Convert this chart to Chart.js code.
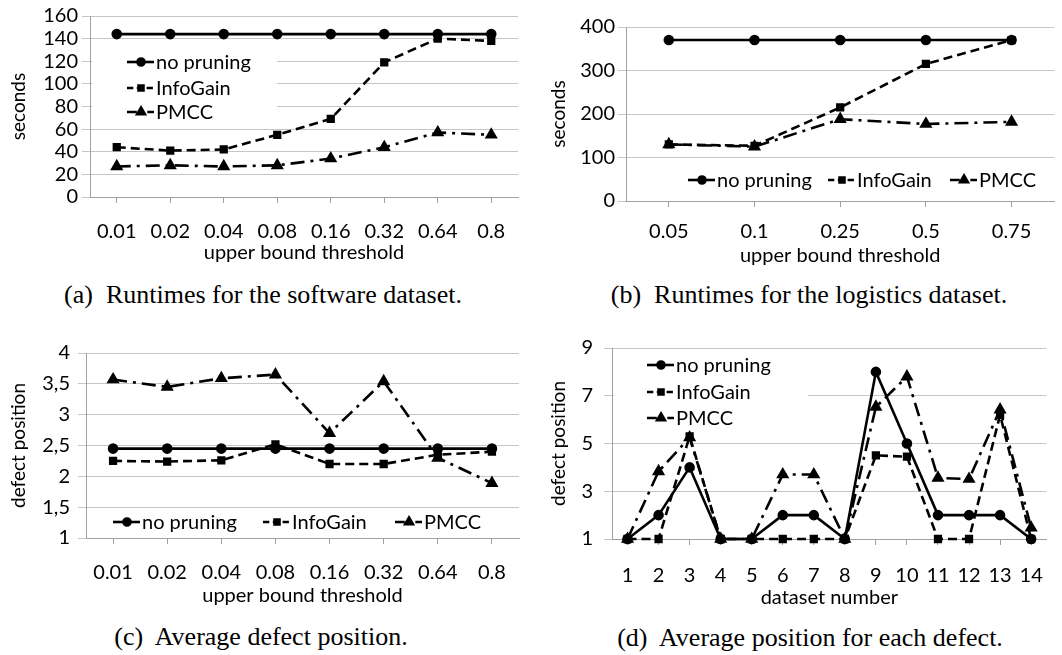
<!DOCTYPE html>
<html>
<head>
<meta charset="utf-8">
<script src="https://cdn.jsdelivr.net/npm/chart.js@4"></script>
<style>
  body { margin: 0; background: #fff; width: 1062px; height: 655px; position: relative; overflow: hidden; }
  canvas { position: absolute; }
  .cap { position: absolute; font-family: "Liberation Serif", serif; font-size: 26px; color: #000;
         white-space: pre; transform: translate(-50%, -50%); }
</style>
</head>
<body>
<canvas id="chartA" width="531" height="270" style="left:0;top:0"></canvas>
<canvas id="chartB" width="531" height="270" style="left:531px;top:0"></canvas>
<canvas id="chartC" width="531" height="290" style="left:0;top:320px"></canvas>
<canvas id="chartD" width="531" height="290" style="left:531px;top:320px"></canvas>
<div class="cap" style="left:263px;top:295px">(a)  Runtimes for the software dataset.</div>
<div class="cap" style="left:809px;top:295px">(b)  Runtimes for the logistics dataset.</div>
<div class="cap" style="left:261px;top:637px">(c)  Average defect position.</div>
<div class="cap" style="left:810px;top:638px">(d)  Average position for each defect.</div>
<script>
// (a) software dataset runtimes
const thresholdsA = ['0.01', '0.02', '0.04', '0.08', '0.16', '0.32', '0.64', '0.8'];
const noPruningA = [144, 144, 144, 144, 144, 144, 144, 144];
const infoGainA = [44, 41, 42, 55, 69, 119, 140, 138];
const pmccA = [27, 28, 27, 28, 34, 44, 57, 55];

// (b) logistics dataset runtimes
const thresholdsB = ['0.05', '0.1', '0.25', '0.5', '0.75'];
const noPruningB = [370, 370, 370, 370, 370];
const infoGainB = [130, 127, 215, 315, 370];
const pmccB = [130, 125, 188, 177, 182];

// (c) average defect position
const thresholdsC = ['0.01', '0.02', '0.04', '0.08', '0.16', '0.32', '0.64', '0.8'];
const noPruningC = [2.45, 2.45, 2.45, 2.45, 2.45, 2.45, 2.45, 2.45];
const infoGainC = [2.25, 2.24, 2.26, 2.52, 2.2, 2.2, 2.35, 2.4];
const pmccC = [3.57, 3.45, 3.59, 3.65, 2.7, 3.54, 2.3, 1.89];

// (d) average position for each defect
const datasetsD = ['1', '2', '3', '4', '5', '6', '7', '8', '9', '10', '11', '12', '13', '14'];
const noPruningD = [1, 2, 4, 1, 1, 2, 2, 1, 8, 5, 2, 2, 2, 1];
const infoGainD = [1, 1, 5.3, 1, 1, 1, 1, 1, 4.5, 4.45, 1, 1, 6.2, 1];
const pmccD = [1, 3.83, 5.25, 1, 1, 3.7, 3.7, 1, 6.53, 7.8, 3.56, 3.51, 6.42, 1.47];

const seriesNames = ['no pruning', 'InfoGain', 'PMCC'];
const FONT = 'Lato';
const FS = 20;
const AXIS = '#a0a0a0';
const GRID = '#c6c6c6';

function makeDatasets(a, b, c) {
  return [
    { label: seriesNames[0], data: a, borderColor: '#000', backgroundColor: '#000', borderWidth: 2.6,
      pointStyle: 'circle', pointRadius: 4, borderDash: [], clip: false },
    { label: seriesNames[1], data: b, borderColor: '#000', backgroundColor: '#000', borderWidth: 2.6,
      pointStyle: 'rect', pointRadius: 4, borderDash: [9, 5], clip: false },
    { label: seriesNames[2], data: c, borderColor: '#000', backgroundColor: '#000', borderWidth: 2.6,
      pointStyle: 'triangle', pointRadius: 5, borderDash: [14, 6, 3, 6], clip: false }
  ];
}

// legend drawn by hand: line sample with marker, then text
const lineLegend = {
  id: 'lineLegend',
  afterDraw(chart, args, opts) {
    const ctx = chart.ctx;
    ctx.save();
    if (opts.box) {
      ctx.fillStyle = '#fff';
      ctx.fillRect(opts.box[0], opts.box[1], opts.box[2], opts.box[3]);
    }
    chart.data.datasets.forEach((ds, i) => {
      const [x, y] = opts.items[i];
      ctx.strokeStyle = '#000';
      ctx.lineWidth = 2.6;
      ctx.setLineDash(ds.borderDash.map(d => d * 0.7));
      ctx.beginPath();
      ctx.moveTo(x, y);
      ctx.lineTo(x + 27, y);
      ctx.stroke();
      ctx.setLineDash([]);
      ctx.fillStyle = '#000';
      Chart.helpers.drawPoint(ctx, { pointStyle: ds.pointStyle, radius: ds.pointRadius - 0.5, rotation: 0, borderWidth: 1 }, x + 14, y);
      ctx.font = FS + 'px ' + FONT;
      ctx.textBaseline = 'middle';
      ctx.textAlign = 'left';
      ctx.fillText(ds.label, x + 29, y + 1);
    });
    ctx.restore();
  }
};

function makeChart(id, p) {
  new Chart(document.getElementById(id), {
    type: 'line',
    data: { labels: p.labels, datasets: makeDatasets(p.a, p.b, p.c) },
    plugins: [lineLegend],
    options: {
      responsive: false,
      animation: false,
      layout: { padding: { left: 0, right: p.right, top: p.top, bottom: 0 } },
      elements: { line: { tension: 0 } },
      plugins: {
        legend: { display: false },
        tooltip: { enabled: false },
        lineLegend: { items: p.legend, box: p.box }
      },
      scales: {
        x: {
          offset: true,
          grid: { drawOnChartArea: false, offset: false, tickLength: 6, color: AXIS },
          border: { color: AXIS },
          ticks: { font: { family: FONT, size: FS }, color: '#000', padding: p.xPad, maxRotation: 0, autoSkip: false },
          title: { display: true, text: p.xTitle, font: { family: FONT, size: FS }, color: '#000',
                   padding: { top: 0, bottom: p.xTitlePad } },
          afterFit: s => { s.height = p.xHeight; }
        },
        y: {
          min: p.min, max: p.max,
          grid: { color: GRID, tickLength: 8 },
          border: { color: AXIS },
          ticks: { stepSize: p.step, autoSkip: false, font: { family: FONT, size: FS }, color: '#000', padding: p.yPad,
                   callback: v => String(v).replace('.', ',') },
          title: { display: true, text: p.yTitle, font: { family: FONT, size: 19 }, color: '#000',
                   padding: { top: p.yTitlePad, bottom: 0 } },
          afterFit: s => { s.width = p.yWidth; }
        }
      }
    }
  });
}

makeChart('chartA', {
  labels: thresholdsA, a: noPruningA, b: infoGainA, c: pmccA,
  min: 0, max: 160, step: 20, xTitle: 'upper bound threshold', yTitle: 'seconds',
  right: 13, top: 15, yWidth: 90, xHeight: 73, xPad: 17, xTitlePad: 5, yPad: 4, yTitlePad: 7,
  legend: [[127, 62], [127, 88], [127, 112]], box: [92, 50, 185, 72]
});
makeChart('chartB', {
  labels: thresholdsB, a: noPruningB, b: infoGainB, c: pmccB,
  min: 0, max: 400, step: 100, xTitle: 'upper bound threshold', yTitle: 'seconds',
  right: 5, top: 27, yWidth: 95, xHeight: 69, xPad: 13, xTitlePad: 2, yPad: 3, yTitlePad: 16,
  legend: [[157, 180], [297, 180], [419, 180]]
});
makeChart('chartC', {
  labels: thresholdsC, a: noPruningC, b: infoGainC, c: pmccC,
  min: 1, max: 4, step: 0.5, xTitle: 'upper bound threshold', yTitle: 'defect position',
  right: 12, top: 33, yWidth: 86, xHeight: 72, xPad: 17, xTitlePad: 2, yPad: 8, yTitlePad: 7,
  legend: [[113, 202], [263, 202], [395, 202]]
});
makeChart('chartD', {
  labels: datasetsD, a: noPruningD, b: infoGainD, c: pmccD,
  min: 1, max: 9, step: 2, xTitle: 'dataset number', yTitle: 'defect position',
  right: 5, top: 28, yWidth: 81, xHeight: 71, xPad: 19, xTitlePad: 0, yPad: 11, yTitlePad: 16,
  legend: [[116, 45], [116, 72], [116, 98]], box: [83, 32, 194, 78]
});
</script>
</body>
</html>
